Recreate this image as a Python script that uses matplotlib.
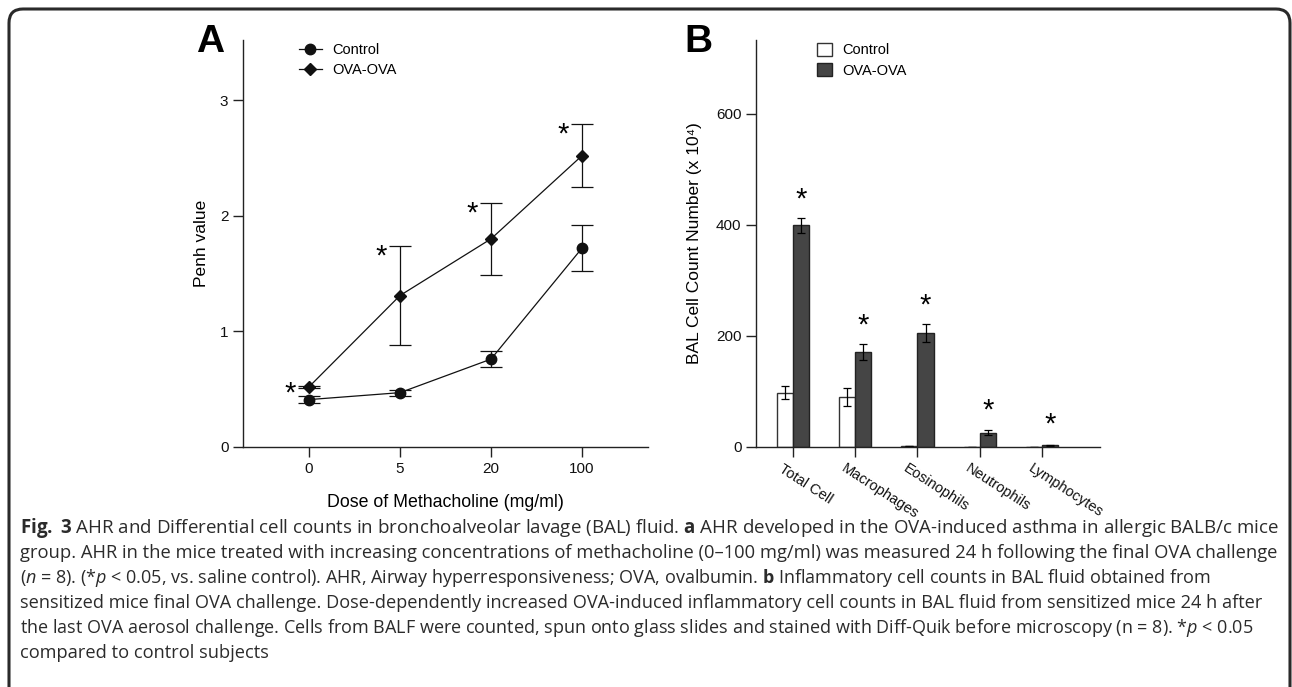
"""Fig. 3 recreation: AHR (Penh) dose response and BAL differential cell counts."""

import numpy as np
import matplotlib
matplotlib.use("Agg")
import matplotlib.pyplot as plt
from matplotlib.path import Path
from matplotlib.patches import PathPatch
from matplotlib.lines import Line2D
from matplotlib.transforms import IdentityTransform, ScaledTranslation

plt.rcParams["font.family"] = ["Liberation Sans", "DejaVu Sans"]
plt.rcParams["mathtext.fontset"] = "custom"
plt.rcParams["mathtext.rm"] = "Open Sans"
plt.rcParams["mathtext.it"] = "Open Sans:italic"
plt.rcParams["mathtext.bf"] = "Open Sans:bold"

# ---- panel A data ----
doses = ["0", "5", "20", "100"]
penh_ctrl = [0.41, 0.47, 0.76, 1.72]
penh_ctrl_err = [0.03, 0.025, 0.07, 0.20]
penh_ova = [0.52, 1.31, 1.80, 2.52]
penh_ova_err = [0.01, 0.43, 0.31, 0.27]
star_a_y = [0.46, 1.65, 2.02, 2.70]

# ---- panel B data ----
cell_types = ["Total Cell", "Macrophages", "Eosinophils", "Neutrophils", "Lymphocytes"]
bal_ctrl = [98, 90, 1, 0, 0]
bal_ctrl_err = [12, 17, 0, 0, 0]
bal_ova = [399, 171, 206, 26, 3]
bal_ova_err = [13, 14, 16, 5, 1]
star_b_y = [446, 219, 254, 66, 40]

caption_lines = [
    r"$\mathbf{Fig.}$ $\mathbf{3}$ AHR and Differential cell counts in bronchoalveolar lavage (BAL) fluid. $\mathbf{a}$ AHR developed in the OVA-induced asthma in allergic BALB/c mice",
    "group. AHR in the mice treated with increasing concentrations of methacholine (0\u2013100 mg/ml) was measured 24 h following the final OVA challenge",
    r"($\mathit{n}$ = 8). (*$\mathit{p}$ < 0.05, vs. saline control). AHR, Airway hyperresponsiveness; OVA, ovalbumin. $\mathbf{b}$ Inflammatory cell counts in BAL fluid obtained from",
    "sensitized mice final OVA challenge. Dose-dependently increased OVA-induced inflammatory cell counts in BAL fluid from sensitized mice 24 h after",
    r"the last OVA aerosol challenge. Cells from BALF were counted, spun onto glass slides and stained with Diff-Quik before microscopy (n = 8). *$\mathit{p}$ < 0.05",
    "compared to control subjects",
]
# right edge (px) of each caption line in the reference, used to fit font size
caption_right = [1278, 1272, 1205, 1253, 1251, None]

W, H = 1292, 687
fig = plt.figure(figsize=(W / 100, H / 100), dpi=100)

# rounded frame (left + top edges), pixel coords
r = 14
verts = [(9, -5), (9, H - 9 - r), (9, H - 9), (9 + r, H - 9),
         (W - 2 - r, H - 9), (W - 2, H - 9), (W - 2, H - 9 - r), (W - 2, -5)]
codes = [Path.MOVETO, Path.LINETO, Path.CURVE3, Path.CURVE3,
         Path.LINETO, Path.CURVE3, Path.CURVE3, Path.LINETO]
fig.patches.append(PathPatch(Path(verts, codes), fill=False, lw=2.2,
                             edgecolor="#2a2a2a", transform=IdentityTransform()))

def px_axes(left, right, top, bottom):
    return fig.add_axes([left / W, 1 - bottom / H, (right - left) / W, (bottom - top) / H])

def style_axes(ax):
    for s in ["top", "right"]:
        ax.spines[s].set_visible(False)
    for s in ["left", "bottom"]:
        ax.spines[s].set_linewidth(1.0)
        ax.spines[s].set_color("#222222")
    ax.tick_params(length=7, width=1.0, color="#222222", labelsize=11,
                   labelcolor="#111111")

# ---- panel A ----
axA = px_axes(243, 648, 40, 447)
style_axes(axA)
x = np.arange(len(doses))
axA.errorbar(x, penh_ctrl, yerr=penh_ctrl_err, color="#111111", lw=0.9, marker="o",
             ms=7.5, capsize=8, elinewidth=0.9, capthick=0.9)
axA.errorbar(x, penh_ova, yerr=penh_ova_err, color="#111111", lw=0.9, marker="D",
             ms=6.5, capsize=8, elinewidth=0.9, capthick=0.9)
for xi, yi in zip(x, star_a_y):
    axA.text(xi - 0.21, yi, "*", fontsize=21, ha="center", va="center")
axA.set_xlim(-0.725, 3.725)
axA.set_ylim(0, 3.52)
axA.set_xticks(x)
axA.set_xticklabels(doses)
axA.set_yticks([0, 1, 2, 3])
axA.spines["left"].set_bounds(0, 3.52)
axA.set_ylabel("Penh value", fontsize=12.5, labelpad=8)
axA.set_xlabel("Dose of Methacholine (mg/ml)", fontsize=12.8, labelpad=13)
handles_a = [Line2D([], [], color="#111111", lw=0.9, marker="o", ms=7.5),
             Line2D([], [], color="#111111", lw=0.9, marker="D", ms=6.5)]
axA.legend(handles_a, ["Control", "OVA-OVA"], loc="upper left",
           bbox_to_anchor=(0.105, 1.025), frameon=False, fontsize=10.5,
           handlelength=1.6, handletextpad=0.7, labelspacing=0.4)
fig.text(210 / W, 1 - 42 / H, "A", fontsize=28, fontweight="bold", ha="center", va="center")

# ---- panel B ----
axB = px_axes(756, 1100, 40, 447)
style_axes(axB)
xb = np.arange(len(cell_types))
bw = 0.26
axB.bar(xb - bw / 2, bal_ctrl, bw, yerr=bal_ctrl_err, color="white", edgecolor="#333333",
        lw=1.0, capsize=3, error_kw=dict(elinewidth=0.9, capthick=0.9), label="Control")
axB.bar(xb + bw / 2, bal_ova, bw, yerr=bal_ova_err, color="#454545", edgecolor="#222222",
        lw=1.0, capsize=3, error_kw=dict(elinewidth=0.9, capthick=0.9), label="OVA-OVA")
for xi, yi in zip(xb, star_b_y):
    axB.text(xi + bw / 2, yi, "*", fontsize=21, ha="center", va="center")
axB.set_xlim(-0.59, 4.93)
axB.set_ylim(0, 733)
axB.set_yticks([0, 200, 400, 600])
axB.spines["left"].set_bounds(0, 733)
axB.set_xticks(xb)
axB.set_xticklabels(cell_types, rotation=-33, ha="left", va="top", rotation_mode="anchor",
                    fontsize=10.5)
shift = ScaledTranslation(-9 / 100, 0, fig.dpi_scale_trans)
for lab in axB.get_xticklabels():
    lab.set_transform(lab.get_transform() + shift)
axB.set_ylabel("BAL Cell Count Number (x 10\u2074)", fontsize=12.5, labelpad=10)
axB.legend(loc="upper left", bbox_to_anchor=(0.14, 1.025), frameon=False, fontsize=10.5,
           handlelength=1.0, handleheight=1.0, handletextpad=0.7, labelspacing=0.4)
fig.text(698 / W, 1 - 42 / H, "B", fontsize=28, fontweight="bold", ha="center", va="center")

# ---- caption ----
base = 13.0
caps = []
for i, line in enumerate(caption_lines):
    caps.append(fig.text(20 / W, 1 - (528 + 25 * i) / H, line, fontsize=base, color="#2b2b2b",
                         family="Open Sans", ha="left", va="center"))
fig.canvas.draw()
renderer = fig.canvas.get_renderer()
sizes = []
for t, right in zip(caps, caption_right):
    if right is not None:
        width = t.get_window_extent(renderer).width
        sizes.append(base * (right - 20) / width)
        t.set_fontsize(sizes[-1])
caps[-1].set_fontsize(np.mean(sizes))

fig.savefig("out.png", dpi=100)
